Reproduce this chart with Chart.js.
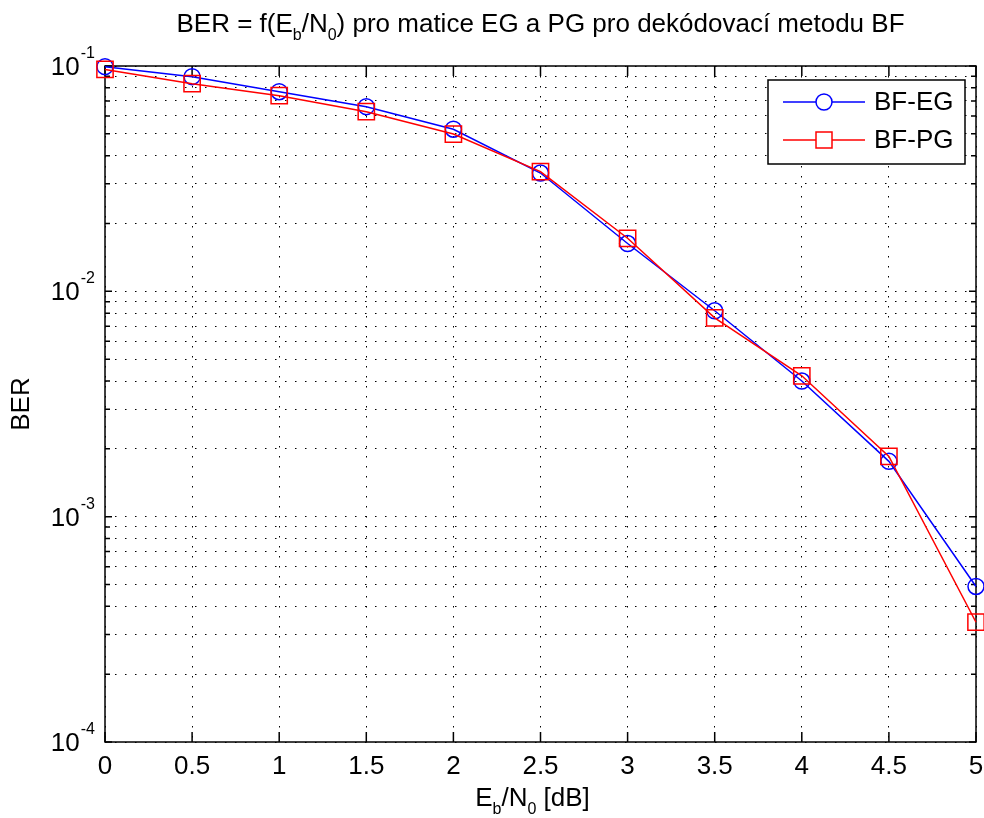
<!DOCTYPE html>
<html>
<head>
<meta charset="utf-8">
<script src="https://cdn.jsdelivr.net/npm/chart.js@4.4.1/dist/chart.umd.min.js"></script>
<style>
  html, body { margin: 0; padding: 0; background: #fff; }
  #ber-chart { display: block; }
</style>
</head>
<body>
<canvas id="ber-chart" width="984" height="818"></canvas>
<script>
// Eb/N0 in dB and measured bit error rates for the two parity-check matrices
const snrDb = [0, 0.5, 1, 1.5, 2, 2.5, 3, 3.5, 4, 4.5, 5];
const berEG = [0.0993, 0.0897, 0.0769, 0.0660, 0.0524, 0.0335, 0.0163, 0.0082, 0.0040, 0.00176, 0.00049];
const berPG = [0.0965, 0.0835, 0.0738, 0.0627, 0.0499, 0.0340, 0.0172, 0.00763, 0.00422, 0.00185, 0.00034];
const seriesNames = ['BF-EG', 'BF-PG'];
const seriesColors = ['#0000ff', '#ff0000'];

const xTickLabels = ['0', '0.5', '1', '1.5', '2', '2.5', '3', '3.5', '4', '4.5', '5'];
const yDecades = [-4, -3, -2, -1];
const yMinorSteps = [2, 3, 4, 5, 6, 7, 8, 9];

const FONT = '"Liberation Sans", Arial, sans-serif';
const MAIN_PX = 26;
const SMALL_PX = 16;

const xTickValues = xTickLabels.map(Number);
const yTickValues = [];
yDecades.forEach((d, i) => {
    const base = Math.pow(10, d);
    yTickValues.push(base);
    if (i < yDecades.length - 1) {
        yMinorSteps.forEach(m => yTickValues.push(m * base));
    }
});

// draws a string made of normal / subscript / superscript pieces
function richWidth(ctx, parts) {
    let w = 0;
    parts.forEach(p => {
        ctx.font = (p.sub || p.sup ? SMALL_PX : MAIN_PX) + 'px ' + FONT;
        w += ctx.measureText(p.t).width;
    });
    return w;
}

function drawRich(ctx, parts, x, y, align) {
    let cx = x;
    const w = richWidth(ctx, parts);
    if (align === 'center') cx = x - w / 2;
    if (align === 'right') cx = x - w;
    ctx.textAlign = 'left';
    ctx.textBaseline = 'alphabetic';
    parts.forEach(p => {
        ctx.font = (p.sub || p.sup ? SMALL_PX : MAIN_PX) + 'px ' + FONT;
        let dy = 0;
        if (p.sub) dy = 8;
        if (p.sup) dy = -17;
        ctx.fillText(p.t, cx, y + dy);
        cx += ctx.measureText(p.t).width;
    });
}

const matlabAxes = {
    id: 'matlabAxes',
    beforeDatasetsDraw(chart) {
        const ctx = chart.ctx;
        const {left, right, top, bottom} = chart.chartArea;
        const xs = chart.scales.x;
        const ys = chart.scales.y;
        ctx.save();
        ctx.strokeStyle = '#000';
        ctx.lineWidth = 1.5;
        ctx.strokeRect(left, top, right - left, bottom - top);
        ctx.beginPath();
        xTickValues.forEach(v => {
            const px = xs.getPixelForValue(v);
            ctx.moveTo(px, bottom);
            ctx.lineTo(px, bottom - 10);
            ctx.moveTo(px, top);
            ctx.lineTo(px, top + 10);
        });
        yTickValues.forEach(v => {
            const py = ys.getPixelForValue(v);
            const major = Math.abs(Math.log10(v) - Math.round(Math.log10(v))) < 1e-9;
            const len = major ? 7 : 5;
            ctx.moveTo(left, py);
            ctx.lineTo(left + len, py);
            ctx.moveTo(right, py);
            ctx.lineTo(right - len, py);
        });
        ctx.stroke();
        ctx.restore();
    },
    afterDraw(chart) {
        const ctx = chart.ctx;
        const {left, right, top, bottom} = chart.chartArea;
        const xs = chart.scales.x;
        const ys = chart.scales.y;
        const midX = (left + right) / 2;
        ctx.save();
        ctx.fillStyle = '#000';

        // title
        drawRich(ctx, [
            {t: 'BER = f(E'}, {t: 'b', sub: true}, {t: '/N'}, {t: '0', sub: true},
            {t: ') pro matice EG a PG pro dekódovací metodu BF'}
        ], midX, 32, 'center');

        // x tick labels
        ctx.font = MAIN_PX + 'px ' + FONT;
        ctx.textAlign = 'center';
        ctx.textBaseline = 'alphabetic';
        xTickLabels.forEach((lab, i) => {
            ctx.fillText(lab, xs.getPixelForValue(xTickValues[i]), bottom + 32);
        });

        // y tick labels, 10 with exponent
        yDecades.forEach(d => {
            const py = ys.getPixelForValue(Math.pow(10, d));
            ctx.font = SMALL_PX + 'px ' + FONT;
            ctx.textAlign = 'right';
            const exp = String(d);
            ctx.fillText(exp, left - 10, py - 8);
            const ew = ctx.measureText(exp).width;
            ctx.font = MAIN_PX + 'px ' + FONT;
            ctx.fillText('10', left - 11 - ew, py + 9);
        });

        // axis titles
        drawRich(ctx, [
            {t: 'E'}, {t: 'b', sub: true}, {t: '/N'}, {t: '0', sub: true}, {t: ' [dB]'}
        ], midX - 8, 806, 'center');

        ctx.save();
        ctx.translate(22, (top + bottom) / 2);
        ctx.rotate(-Math.PI / 2);
        ctx.font = MAIN_PX + 'px ' + FONT;
        ctx.textAlign = 'center';
        ctx.textBaseline = 'middle';
        ctx.fillText('BER', 0, 0);
        ctx.restore();

        // legend box
        const lx = 768, ly = 80, lw = 197, lh = 84;
        ctx.fillStyle = '#fff';
        ctx.fillRect(lx, ly, lw, lh);
        ctx.strokeStyle = '#000';
        ctx.lineWidth = 1.5;
        ctx.strokeRect(lx, ly, lw, lh);
        const rows = [102, 140];
        chart.data.datasets.forEach((ds, i) => {
            const ry = rows[i];
            ctx.strokeStyle = ds.borderColor;
            ctx.lineWidth = ds.borderWidth;
            ctx.beginPath();
            ctx.moveTo(783, ry);
            ctx.lineTo(865, ry);
            ctx.stroke();
            ctx.beginPath();
            if (ds.pointStyle === 'circle') {
                ctx.arc(824, ry, 8, 0, Math.PI * 2);
            } else {
                ctx.rect(816, ry - 8, 16, 16);
            }
            ctx.fillStyle = '#fff';
            ctx.fill();
            ctx.stroke();
            ctx.fillStyle = '#000';
            ctx.font = MAIN_PX + 'px ' + FONT;
            ctx.textAlign = 'left';
            ctx.textBaseline = 'middle';
            ctx.fillText(ds.label, 874, ry + 1);
        });
        ctx.restore();
    }
};

const dotted = {color: '#000', lineWidth: 1, drawTicks: false};

new Chart(document.getElementById('ber-chart').getContext('2d'), {
    type: 'line',
    data: {
        datasets: [
            {
                label: seriesNames[0],
                data: snrDb.map((x, i) => ({x: x, y: berEG[i]})),
                borderColor: seriesColors[0],
                borderWidth: 1.5,
                pointStyle: 'circle',
                pointRadius: 8,
                pointBorderWidth: 1.5,
                pointBorderColor: seriesColors[0],
                pointBackgroundColor: 'rgba(0,0,0,0)',
                fill: false,
                tension: 0,
                clip: false,
                order: 2
            },
            {
                label: seriesNames[1],
                data: snrDb.map((x, i) => ({x: x, y: berPG[i]})),
                borderColor: seriesColors[1],
                borderWidth: 1.5,
                pointStyle: 'rect',
                pointRadius: 11.5,
                pointBorderWidth: 1.5,
                pointBorderColor: seriesColors[1],
                pointBackgroundColor: 'rgba(0,0,0,0)',
                fill: false,
                tension: 0,
                clip: false,
                order: 1
            }
        ]
    },
    options: {
        responsive: false,
        animation: false,
        devicePixelRatio: 1,
        layout: {autoPadding: false, padding: {left: 105, right: 8, top: 66, bottom: 76}},
        plugins: {
            legend: {display: false},
            title: {display: false},
            tooltip: {enabled: false}
        },
        scales: {
            x: {
                type: 'linear',
                min: 0,
                max: 5,
                afterBuildTicks: scale => { scale.ticks = xTickValues.map(v => ({value: v})); },
                ticks: {display: false},
                grid: dotted,
                border: {display: false, dash: [1.5, 8.5]}
            },
            y: {
                type: 'logarithmic',
                min: 1e-4,
                max: 1e-1,
                afterBuildTicks: scale => { scale.ticks = yTickValues.map(v => ({value: v})); },
                ticks: {display: false},
                grid: dotted,
                border: {display: false, dash: [1.5, 8.5]}
            }
        }
    },
    plugins: [matlabAxes]
});
</script>
</body>
</html>
